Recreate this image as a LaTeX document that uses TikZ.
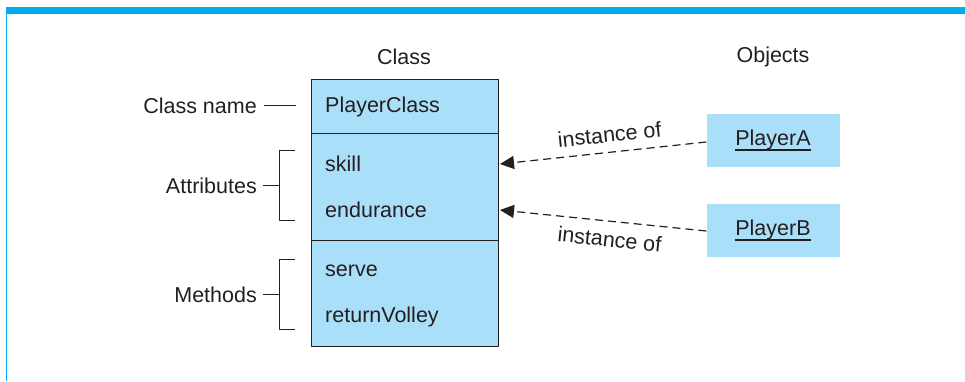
\documentclass[tikz,border=0pt]{standalone}
\usepackage{fontspec}
\setmainfont{Liberation Sans}
\usetikzlibrary{arrows.meta,positioning}
\definecolor{boxblue}{RGB}{170,223,249}
\definecolor{barcyan}{RGB}{0,174,239}
\definecolor{ink}{RGB}{35,31,32}
\newcommand{\objname}[1]{\setbox0\hbox{#1}\rlap{\rule[-5.5pt]{\wd0}{1.3pt}}\box0}
\begin{document}
\begin{tikzpicture}[x=1pt, y=-1pt, font=\fontsize{21.5}{25}\selectfont, text=ink, line join=round, >={Triangle[length=14pt,width=13pt]},
		part/.style={draw=ink, fill=boxblue, line width=1pt, minimum width=187pt, inner sep=0pt, anchor=north west},
		obj/.style={fill=boxblue, minimum width=133pt, minimum height=53pt, inner sep=0pt},
		brk/.style={draw=ink, line width=1pt},
		inst/.style={draw=ink, line width=1.2pt, dash pattern=on 8pt off 5pt, ->}]
	\useasboundingbox (0,0) rectangle (965,381);
	% frame
	\fill[barcyan] (6,7) rectangle (965,13.5);
	\draw[barcyan, line width=1pt] (6.5,13) -- (6.5,381);
	% class box
	\node[part, minimum height=54pt] (namepart) at (311,79) {};
	\node[part, minimum height=107pt] (attrs) at (311,133) {};
	\node[part, minimum height=106pt] (methods) at (311,240) {};
	\foreach \n/\y/\t in {cname/107/PlayerClass, skill/164/skill, endur/210/endurance, serve/271/serve, volley/317/returnVolley}
		\node[anchor=west, inner sep=0pt] (\n) at (325,\y) {\t};
	\node (classhd) at (404,57) {Class};
	\node (objhd) at (773,57) {Objects};
	% labels on the left
	\node[anchor=east, inner sep=0pt] (namelbl) at (257,106) {Class name};
	\node[anchor=east, inner sep=0pt] (attrlbl) at (257,186) {Attributes};
	\node[anchor=east, inner sep=0pt] (methlbl) at (257,295) {Methods};
	\draw[brk] ([xshift=7pt,yshift=1pt]namelbl.east) -- (296,105);
	\foreach \a/\b/\l in {150/220/attrlbl, 259/329/methlbl} {
		\draw[brk] (295,\a) -| (279,\b) -- (295,\b);
		\draw[brk] ([xshift=6pt,yshift=1pt]\l.east) -- (279,{(\a+\b)/2});
	}
	% objects
	\node[obj] (pa) at (773,140) {\objname{PlayerA}};
	\node[obj] (pb) at (773,230) {\objname{PlayerB}};
	\draw[inst] ([yshift=-2pt]pa.west) -- node[pos=0.46, sloped, above=6pt] {instance of} ([xshift=1pt]skill -| attrs.east);
	\draw[inst] ([yshift=-1pt]pb.west) -- node[pos=0.46, sloped, below=6pt] {instance of} ([xshift=1pt]endur -| attrs.east);
\end{tikzpicture}
\end{document}
